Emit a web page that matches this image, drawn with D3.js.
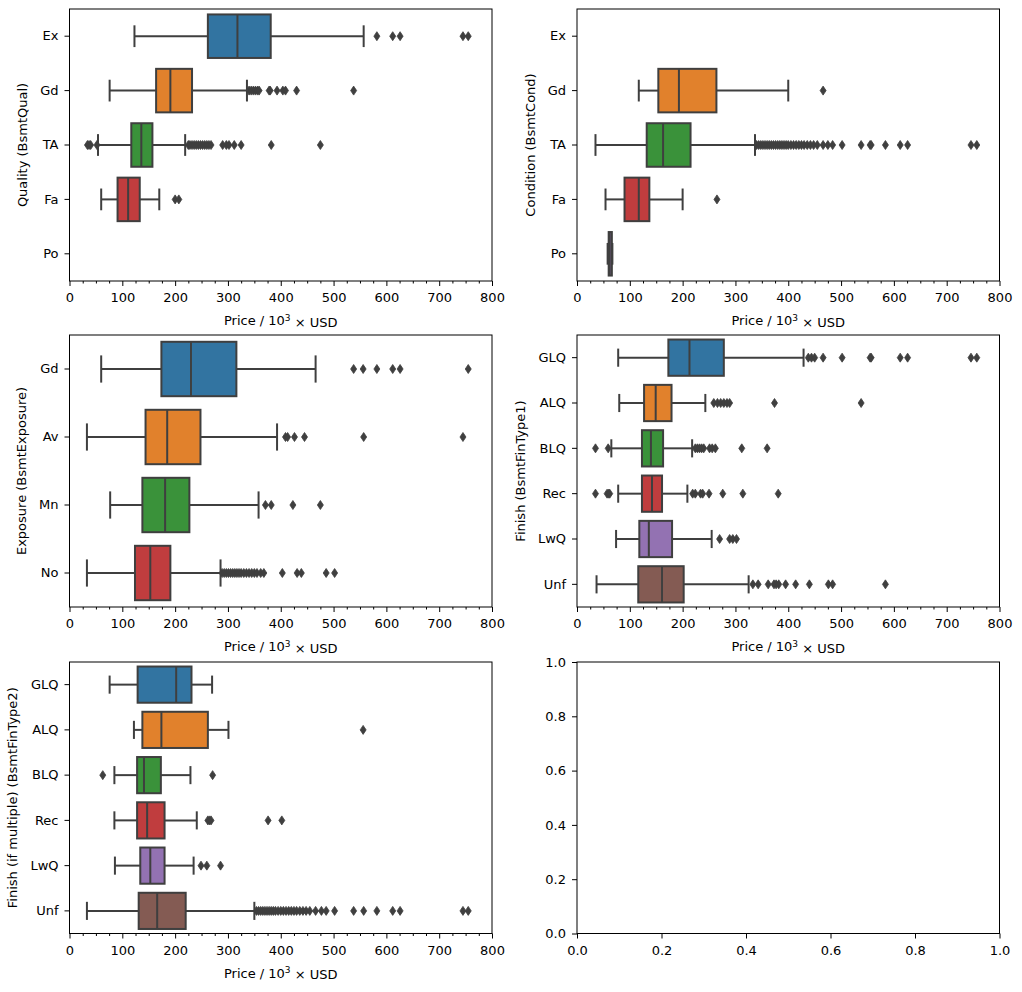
<!DOCTYPE html>
<html>
<head>
<meta charset="utf-8">
<script src="https://d3js.org/d3.v7.min.js"></script>
<style>
  body { margin: 0; background: #fff; }
  svg { display: block; }
</style>
</head>
<body>
<div id="chart"></div>
<script>
// Basement quality
const qualCats = ['Ex', 'Gd', 'TA', 'Fa', 'Po'];
const qualStats = [[123, 262, 318, 381, 557], [76, 164, 191, 232, 336], [54, 117, 136, 157, 219], [60, 91, 111, 133, 170], null];
const qualFliers = [
  [582, 612, 626, 745, 755],
  [340, 344, 348, 352, 356, 359, 378, 380, 393, 404, 409, 430, 538],
  [34, 37, 40, 52, 225, 228, 232, 236, 240, 244, 248, 252, 256, 260, 264, 268, 290, 297, 302, 312, 325, 382, 475],
  [200, 207],
  []
];

// Basement condition
const condCats = ['Ex', 'Gd', 'TA', 'Fa', 'Po'];
const condStats = [null, [117, 154, 193, 264, 400], [35, 132, 163, 215, 337], [54, 90, 117, 137, 200], [58, 60, 62, 66, 67]];
const condFliers = [
  [],
  [466],
  [340, 344, 348, 352, 356, 360, 364, 368, 372, 376, 380, 384, 388, 392, 396, 400, 405, 410, 415, 420, 425, 430, 436, 442, 448, 455, 466, 475, 484, 502, 538, 555, 557, 584, 612, 626, 746, 757],
  [265],
  []
];

// Basement exposure
const expoCats = ['Gd', 'Av', 'Mn', 'No'];
const expoStats = [[60, 174, 230, 316, 466], [33, 144, 185, 248, 393], [77, 138, 181, 227, 358], [33, 124, 153, 191, 286]];
const expoFliers = [
  [538, 556, 582, 612, 626, 755],
  [409, 413, 426, 445, 557, 745],
  [371, 382, 423, 475],
  [289, 293, 297, 301, 305, 309, 313, 317, 321, 325, 330, 335, 340, 345, 350, 355, 362, 368, 403, 431, 439, 486, 502]
];

// Finish type 1
const fin1Cats = ['GLQ', 'ALQ', 'BLQ', 'Rec', 'LwQ', 'Unf'];
const fin1Stats = [[78, 173, 213, 278, 429], [80, 127, 149, 179, 243], [65, 123, 140, 163, 218], [78, 123, 142, 161, 209], [74, 118, 136, 180, 255], [37, 116, 161, 202, 325]];
const fin1Fliers = [
  [438, 444, 450, 466, 502, 555, 557, 612, 626, 746, 757],
  [259, 266, 272, 278, 284, 289, 374, 538],
  [35, 59, 224, 228, 232, 236, 240, 251, 256, 262, 312, 360],
  [35, 57, 60, 62, 219, 224, 234, 238, 250, 276, 314, 381],
  [270, 289, 295, 302],
  [333, 343, 362, 373, 377, 382, 395, 414, 440, 476, 484, 584]
];

// Finish type 2
const fin2Cats = ['GLQ', 'ALQ', 'BLQ', 'Rec', 'LwQ', 'Unf'];
const fin2Stats = [[76, 129, 202, 231, 270], [122, 138, 174, 262, 301], [85, 128, 141, 173, 229], [85, 128, 147, 180, 241], [86, 134, 153, 180, 235], [33, 131, 166, 220, 350]];
const fin2Fliers = [
  [],
  [556],
  [63, 271],
  [262, 265, 268, 376, 402],
  [249, 260, 286],
  [354, 358, 362, 366, 370, 374, 378, 382, 386, 390, 395, 400, 405, 410, 415, 420, 425, 430, 436, 442, 448, 455, 466, 477, 486, 502, 538, 557, 582, 612, 626, 745, 755]
];

const xTicks = [0, 100, 200, 300, 400, 500, 600, 700, 800];
const xMinorTicks = d3.range(0, 801, 25).filter(d => d % 100 !== 0);
const emptyTicks = [0, 0.2, 0.4, 0.6, 0.8, 1.0];

const palette = ['#3274a1', '#e1812c', '#3a923a', '#c03d3e', '#9372b2', '#845b53'];
const gray = '#3f3f3f';
const FONT = 'DejaVu Sans';

const width = 1022;
const height = 992;

const svg = d3.select('#chart')
  .append('svg')
  .attr('width', width)
  .attr('height', height)
  .style('font-family', FONT);

const cols = [[69.5, 492], [577, 999.5]];
const rows = [[9, 281], [335, 607], [662, 933.5]];

function styleAxis(g) {
  g.select('.domain').remove();
  g.selectAll('.tick line').attr('stroke', '#000').attr('stroke-width', 1);
  g.selectAll('.tick text')
    .attr('fill', '#000')
    .style('font-size', '13px')
    .style('font-family', FONT);
  g.attr('font-size', null).attr('font-family', null);
}

function xLabel(y0, x0, x1) {
  const t = svg.append('text')
    .attr('x', (x0 + x1) / 2)
    .attr('y', y0 + 44)
    .attr('text-anchor', 'middle')
    .style('font-size', '13px')
    .attr('fill', '#000');
  t.append('tspan').text('Price / 10');
  t.append('tspan').text('3').attr('dy', '-0.45em').style('font-size', '9px');
  t.append('tspan').text(' × USD').attr('dy', '0.45em');
}

function drawBoxPanel(box, cats, stats, fliers, ylabel) {
  const [x0, x1] = box.x;
  const [y0, y1] = box.y;

  const x = d3.scaleLinear().domain([0, 800]).range([x0, x1]);
  const y = d3.scaleBand().domain(cats).range([y0, y1]);
  const bw = y.bandwidth() * 0.8;
  const cap = bw * 0.5;

  const g = svg.append('g');

  cats.forEach((c, i) => {
    const s = stats[i];
    const cy = y(c) + y.bandwidth() / 2;
    if (s) {
      const [lo, q1, med, q3, hi] = s;
      // whiskers
      g.append('line').attr('x1', x(lo)).attr('x2', x(q1)).attr('y1', cy).attr('y2', cy)
        .attr('stroke', gray).attr('stroke-width', 2);
      g.append('line').attr('x1', x(q3)).attr('x2', x(hi)).attr('y1', cy).attr('y2', cy)
        .attr('stroke', gray).attr('stroke-width', 2);
      // caps
      g.append('line').attr('x1', x(lo)).attr('x2', x(lo)).attr('y1', cy - cap / 2).attr('y2', cy + cap / 2)
        .attr('stroke', gray).attr('stroke-width', 2);
      g.append('line').attr('x1', x(hi)).attr('x2', x(hi)).attr('y1', cy - cap / 2).attr('y2', cy + cap / 2)
        .attr('stroke', gray).attr('stroke-width', 2);
      // box
      g.append('rect')
        .attr('x', x(q1))
        .attr('y', cy - bw / 2)
        .attr('width', Math.max(0.5, x(q3) - x(q1)))
        .attr('height', bw)
        .attr('fill', palette[i])
        .attr('stroke', gray)
        .attr('stroke-width', 2);
      // median
      g.append('line').attr('x1', x(med)).attr('x2', x(med)).attr('y1', cy - bw / 2).attr('y2', cy + bw / 2)
        .attr('stroke', gray).attr('stroke-width', 2);
    }
    // fliers
    g.selectAll(null)
      .data(fliers[i])
      .enter()
      .append('path')
      .attr('d', 'M0,-4.5L3,0L0,4.5L-3,0Z')
      .attr('transform', d => `translate(${x(d)},${cy})`)
      .attr('fill', gray)
      .attr('stroke', gray)
      .attr('stroke-width', 0.8);
  });

  // frame
  svg.append('rect')
    .attr('x', x0).attr('y', y0)
    .attr('width', x1 - x0).attr('height', y1 - y0)
    .attr('fill', 'none').attr('stroke', '#000').attr('stroke-width', 1);

  // x axis
  svg.append('g')
    .attr('transform', `translate(0,${y1})`)
    .call(d3.axisBottom(x).tickValues(xTicks).tickSize(5).tickPadding(7).tickFormat(d3.format('d')))
    .call(styleAxis);
  svg.append('g')
    .attr('transform', `translate(0,${y1})`)
    .call(d3.axisBottom(x).tickValues(xMinorTicks).tickSize(2.5).tickFormat(''))
    .call(styleAxis);

  // y axis
  const ya = svg.append('g')
    .attr('transform', `translate(${x0},0)`)
    .call(d3.axisLeft(y).tickSize(5).tickPadding(6))
    .call(styleAxis);

  xLabel(y1, x0, x1);

  const bb = ya.node().getBBox();
  svg.append('text')
    .attr('transform', `translate(${x0 + bb.x - 13},${(y0 + y1) / 2}) rotate(-90)`)
    .attr('text-anchor', 'middle')
    .style('font-size', '13px')
    .attr('fill', '#000')
    .text(ylabel);
}

function drawEmptyPanel(box) {
  const [x0, x1] = box.x;
  const [y0, y1] = box.y;
  const x = d3.scaleLinear().domain([0, 1]).range([x0, x1]);
  const y = d3.scaleLinear().domain([0, 1]).range([y1, y0]);

  svg.append('rect')
    .attr('x', x0).attr('y', y0)
    .attr('width', x1 - x0).attr('height', y1 - y0)
    .attr('fill', 'none').attr('stroke', '#000').attr('stroke-width', 1);

  svg.append('g')
    .attr('transform', `translate(0,${y1})`)
    .call(d3.axisBottom(x).tickValues(emptyTicks).tickSize(5).tickPadding(7).tickFormat(d3.format('.1f')))
    .call(styleAxis);
  svg.append('g')
    .attr('transform', `translate(${x0},0)`)
    .call(d3.axisLeft(y).tickValues(emptyTicks).tickSize(5).tickPadding(6).tickFormat(d3.format('.1f')))
    .call(styleAxis);
}

drawBoxPanel({ x: cols[0], y: rows[0] }, qualCats, qualStats, qualFliers, 'Quality (BsmtQual)');
drawBoxPanel({ x: cols[1], y: rows[0] }, condCats, condStats, condFliers, 'Condition (BsmtCond)');
drawBoxPanel({ x: cols[0], y: rows[1] }, expoCats, expoStats, expoFliers, 'Exposure (BsmtExposure)');
drawBoxPanel({ x: cols[1], y: rows[1] }, fin1Cats, fin1Stats, fin1Fliers, 'Finish (BsmtFinType1)');
drawBoxPanel({ x: cols[0], y: rows[2] }, fin2Cats, fin2Stats, fin2Fliers, 'Finish (if multiple) (BsmtFinType2)');
drawEmptyPanel({ x: cols[1], y: rows[2] });
</script>
</body>
</html>
